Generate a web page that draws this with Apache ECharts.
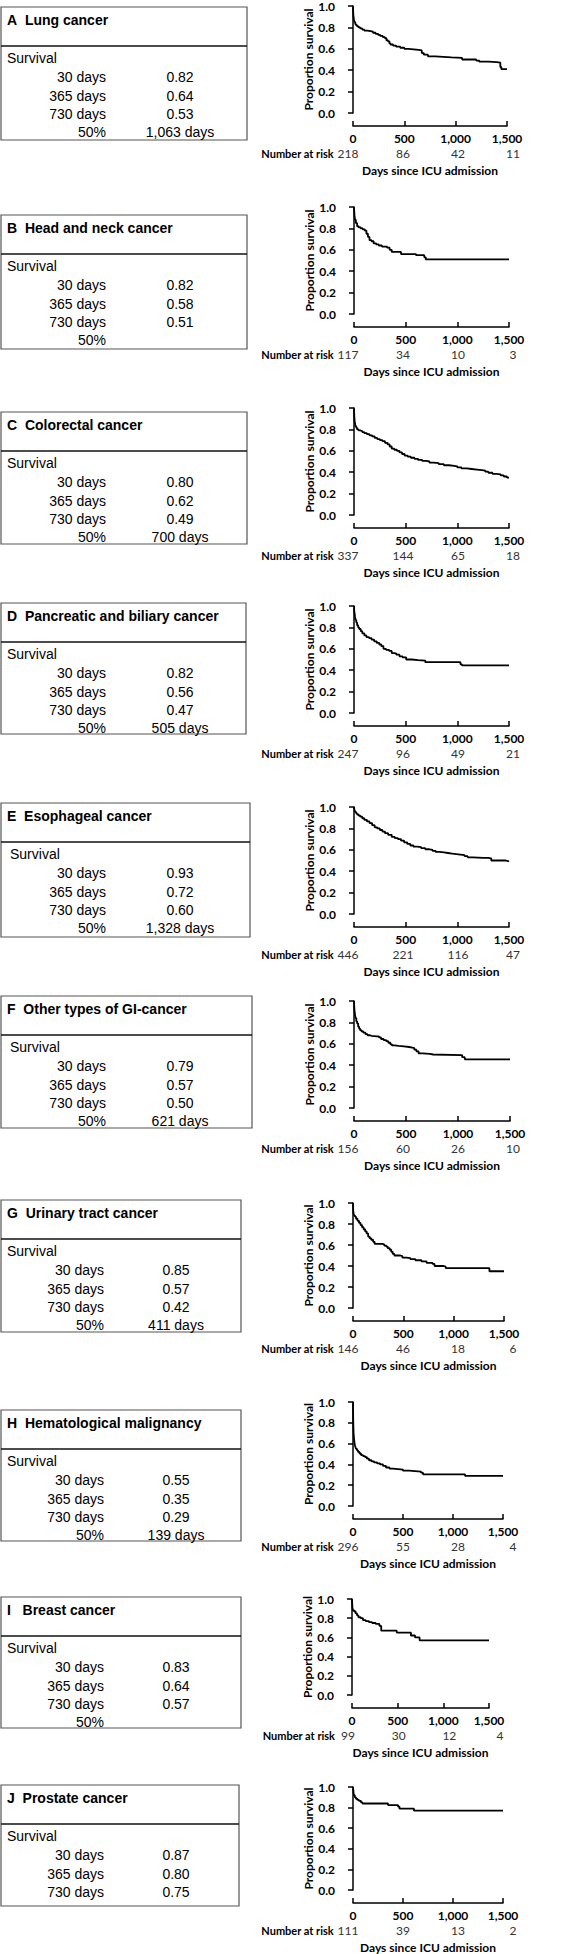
<!DOCTYPE html>
<html><head><meta charset="utf-8">
<script src="https://cdn.jsdelivr.net/npm/echarts/dist/echarts.min.js"></script>
<style>html,body{margin:0;padding:0;background:#fff}#c{width:563px;height:1954px}</style>
</head><body><div id="c"></div>
<script>
// ---------------- data ----------------
const panelLetters = ['A','B','C','D','E','F','G','H','I','J'];
const panelTitles = ['Lung cancer','Head and neck cancer','Colorectal cancer','Pancreatic and biliary cancer','Esophageal cancer','Other types of GI-cancer','Urinary tract cancer','Hematological malignancy','Breast cancer','Prostate cancer'];
const rowLabels = ['30 days','365 days','730 days','50%'];
const surv30  = ['0.82','0.82','0.80','0.82','0.93','0.79','0.85','0.55','0.83','0.87'];
const surv365 = ['0.64','0.58','0.62','0.56','0.72','0.57','0.57','0.35','0.64','0.80'];
const surv730 = ['0.53','0.51','0.49','0.47','0.60','0.50','0.42','0.29','0.57','0.75'];
const medianSurvival = ['1,063 days','','700 days','505 days','1,328 days','621 days','411 days','139 days','',null];
const xTickValues = [0,500,1000,1500];
const yTickValues = [0,0.2,0.4,0.6,0.8,1.0];
const atRisk = [
  [218,86,42,11],[117,34,10,3],[337,144,65,18],[247,96,49,21],[446,221,116,47],
  [156,60,26,10],[146,46,18,6],[296,55,28,4],[99,30,12,4],[111,39,13,2]
];
const curveA = [[0,1],[1,0.96],[3,0.92],[6,0.89],[10,0.87],[15,0.85],[22,0.83],[30,0.82],[40,0.81],[55,0.80],[70,0.79],[90,0.78],[110,0.77],[140,0.765],[170,0.76],[195,0.75],[220,0.74],[245,0.73],[265,0.72],[290,0.71],[310,0.70],[325,0.68],[340,0.67],[355,0.65],[365,0.64],[390,0.63],[420,0.62],[460,0.61],[500,0.60],[540,0.595],[590,0.59],[640,0.585],[670,0.56],[690,0.545],[730,0.53],[800,0.525],[880,0.52],[960,0.515],[1063,0.50],[1150,0.50],[1200,0.49],[1230,0.48],[1320,0.475],[1400,0.47],[1435,0.43],[1445,0.41],[1500,0.41]];
const curveB = [[0,1],[2,0.96],[5,0.92],[10,0.88],[18,0.85],[30,0.82],[45,0.81],[65,0.80],[85,0.79],[105,0.78],[120,0.75],[135,0.72],[150,0.69],[170,0.68],[190,0.66],[215,0.65],[240,0.64],[270,0.63],[320,0.62],[345,0.60],[365,0.58],[440,0.58],[455,0.56],[590,0.56],[600,0.55],[680,0.53],[695,0.51],[1500,0.51]];
const curveC = [[0,1],[1,0.96],[3,0.92],[6,0.88],[10,0.85],[15,0.83],[22,0.815],[30,0.80],[45,0.79],[60,0.785],[80,0.775],[100,0.765],[125,0.755],[150,0.745],[175,0.735],[200,0.72],[225,0.71],[250,0.70],[275,0.69],[300,0.675],[325,0.66],[345,0.64],[365,0.62],[390,0.61],[415,0.60],[440,0.585],[465,0.57],[490,0.555],[520,0.545],[550,0.535],[585,0.525],[620,0.515],[660,0.505],[700,0.50],[730,0.49],[770,0.485],[820,0.475],[870,0.465],[920,0.46],[970,0.455],[1000,0.445],[1040,0.435],[1090,0.43],[1140,0.425],[1190,0.42],[1240,0.415],[1270,0.405],[1300,0.395],[1340,0.385],[1380,0.38],[1420,0.37],[1450,0.36],[1480,0.35],[1500,0.35]];
const curveD = [[0,1],[2,0.96],[5,0.93],[10,0.90],[15,0.87],[22,0.845],[30,0.82],[40,0.80],[50,0.785],[65,0.765],[80,0.745],[100,0.725],[120,0.71],[145,0.70],[170,0.685],[195,0.67],[220,0.655],[245,0.64],[265,0.625],[285,0.60],[310,0.59],[340,0.58],[365,0.56],[390,0.555],[410,0.545],[440,0.53],[470,0.52],[505,0.50],[560,0.495],[620,0.49],[690,0.475],[1020,0.475],[1030,0.455],[1045,0.445],[1500,0.445]];
const curveE = [[0,1],[3,0.98],[8,0.96],[15,0.95],[22,0.94],[30,0.93],[45,0.92],[60,0.91],[80,0.895],[100,0.88],[125,0.865],[150,0.85],[175,0.83],[200,0.81],[225,0.80],[250,0.785],[275,0.77],[300,0.755],[330,0.74],[365,0.72],[395,0.71],[425,0.70],[455,0.685],[485,0.67],[515,0.655],[545,0.64],[575,0.63],[610,0.625],[650,0.615],[690,0.605],[730,0.60],[760,0.59],[790,0.58],[830,0.575],[870,0.57],[910,0.565],[950,0.56],[990,0.555],[1030,0.55],[1070,0.54],[1100,0.53],[1150,0.525],[1250,0.525],[1300,0.52],[1328,0.50],[1400,0.50],[1470,0.495],[1490,0.49],[1500,0.49]];
const curveF = [[0,1],[2,0.95],[5,0.91],[10,0.87],[15,0.84],[22,0.81],[30,0.79],[40,0.76],[50,0.74],[60,0.725],[75,0.715],[90,0.705],[110,0.69],[130,0.68],[150,0.675],[170,0.67],[220,0.67],[240,0.66],[260,0.645],[285,0.635],[310,0.625],[330,0.61],[350,0.595],[365,0.585],[390,0.58],[430,0.575],[480,0.57],[530,0.565],[560,0.56],[580,0.545],[600,0.53],[621,0.51],[660,0.505],[730,0.50],[760,0.495],[1030,0.495],[1040,0.475],[1065,0.455],[1500,0.455]];
const curveG = [[0,1],[1,0.95],[3,0.92],[6,0.90],[12,0.88],[20,0.87],[30,0.85],[45,0.83],[60,0.81],[75,0.79],[90,0.77],[105,0.75],[120,0.73],[135,0.71],[150,0.68],[165,0.665],[180,0.65],[200,0.63],[215,0.61],[290,0.605],[310,0.595],[330,0.585],[345,0.57],[365,0.555],[380,0.535],[395,0.515],[411,0.50],[470,0.495],[490,0.48],[530,0.475],[570,0.465],[620,0.455],[680,0.445],[730,0.43],[790,0.42],[810,0.40],[900,0.395],[920,0.38],[1345,0.38],[1355,0.35],[1500,0.35]];
const curveH = [[0,1],[1,0.90],[2,0.82],[4,0.75],[6,0.70],[9,0.66],[12,0.63],[16,0.60],[20,0.58],[25,0.565],[30,0.55],[40,0.535],[50,0.52],[65,0.505],[80,0.49],[100,0.48],[120,0.47],[139,0.455],[160,0.44],[185,0.43],[210,0.42],[240,0.41],[270,0.40],[300,0.385],[330,0.37],[365,0.36],[400,0.355],[450,0.35],[500,0.34],[560,0.335],[620,0.33],[680,0.32],[700,0.305],[1110,0.305],[1120,0.29],[1500,0.29]];
const curveI = [[0,1],[2,0.95],[5,0.91],[10,0.88],[25,0.87],[40,0.85],[55,0.83],[70,0.81],[95,0.80],[120,0.78],[150,0.77],[185,0.76],[220,0.75],[260,0.74],[300,0.72],[320,0.67],[480,0.67],[490,0.65],[630,0.65],[645,0.62],[690,0.60],[740,0.57],[1500,0.57]];
const curveJ = [[0,1],[3,0.97],[6,0.94],[10,0.92],[18,0.90],[30,0.885],[45,0.875],[60,0.865],[80,0.85],[95,0.84],[340,0.84],[350,0.825],[440,0.825],[450,0.81],[465,0.79],[600,0.79],[610,0.77],[1500,0.77]];
const curves = [curveA,curveB,curveC,curveD,curveE,curveF,curveG,curveH,curveI,curveJ];

// ---------------- layout (positions only) ----------------
const layout = [
  {T:5,   H:108, X0:353, W:154, bt:7,    bh:133, br:247, lx:106, vx:180, sx:7,  rw:165},
  {T:207, H:107, X0:354, W:155, bt:215,  bh:134, br:247, lx:106, vx:180, sx:7,  rw:165},
  {T:408, H:107, X0:354, W:155, bt:412,  bh:132, br:247, lx:106, vx:180, sx:7,  rw:165},
  {T:606, H:107, X0:354, W:155, bt:603,  bh:131, br:246, lx:106, vx:180, sx:7,  rw:165},
  {T:807, H:107, X0:354, W:155, bt:803,  bh:134, br:250, lx:106, vx:180, sx:10, rw:165},
  {T:1001,H:107, X0:354, W:156, bt:996,  bh:132, br:252, lx:106, vx:180, sx:10, rw:165},
  {T:1203,H:105, X0:353, W:151, bt:1200, bh:132, br:241, lx:104, vx:176, sx:7,  rw:165},
  {T:1402,H:104, X0:353, W:150, bt:1410, bh:131, br:241, lx:104, vx:176, sx:7,  rw:165},
  {T:1599,H:96,  X0:352, W:137, bt:1597, bh:131, br:241, lx:104, vx:176, sx:7,  rw:152},
  {T:1787,H:103, X0:353, W:150, bt:1785, bh:121, br:239, lx:104, vx:176, sx:7,  rw:165}
];

const CF = 'Lato';
const TF = 'Liberation Sans';
const grids = [], xAxes = [], yAxes = [], series = [], graphics = [];

function tText(x, y, text, align, bold) {
  return {type: 'text', x: x, y: y,
    style: {text: text, fontFamily: TF, fontSize: 14, fontWeight: bold ? 'bold' : 'normal', fill: '#000',
      textAlign: align, textVerticalAlign: 'middle', align: align, verticalAlign: 'middle'}};
}

panelTitles.forEach((title, i) => {
  const L = layout[i];
  const axisY = L.T + L.H + 13;
  const riskY = axisY + 27;
  grids.push({left: L.X0, top: L.T, width: L.W, height: L.H});
  xAxes.push({
    gridIndex: 2*i, type: 'value', min: xTickValues[0], max: xTickValues[xTickValues.length-1], interval: 500,
    offset: 13,
    axisLine: {show: true, onZero: false, lineStyle: {color: '#000', width: 1.5}},
    axisTick: {show: true, inside: true, length: 5, lineStyle: {color: '#000', width: 1.5}},
    splitLine: {show: false},
    axisLabel: {margin: 6, fontFamily: CF, fontWeight: 'bold', fontSize: 12, color: '#000',
      formatter: v => v.toLocaleString('en-US')},
    name: 'Days since ICU admission', nameLocation: 'middle', nameGap: 38,
    nameTextStyle: {fontFamily: CF, fontWeight: 'bold', fontSize: 12, color: '#000'}
  });
  yAxes.push({
    gridIndex: 2*i, type: 'value', min: yTickValues[0], max: yTickValues[yTickValues.length-1], interval: 0.2,
    offset: 10,
    axisLine: {show: true, lineStyle: {color: '#000', width: 1.5}},
    axisTick: {show: true, inside: false, length: 5, lineStyle: {color: '#000', width: 1.5}},
    splitLine: {show: false},
    axisLabel: {margin: 8, fontFamily: CF, fontWeight: 'bold', fontSize: 12, color: '#000',
      formatter: v => v.toFixed(1)},
    name: 'Proportion survival', nameLocation: 'middle', nameGap: 29,
    nameTextStyle: {fontFamily: CF, fontWeight: 'bold', fontSize: 12, color: '#000'}
  });
  grids.push({left: 348, top: riskY - 1, width: L.rw, height: 1});
  xAxes.push({
    gridIndex: 2*i+1, type: 'category', boundaryGap: false, data: atRisk[i].map(String), position: 'bottom',
    axisLine: {show: false}, axisTick: {show: false}, splitLine: {show: false},
    axisLabel: {interval: 0, margin: 0, verticalAlign: 'middle', fontFamily: CF, fontSize: 12, color: '#333'},
    name: 'Number at risk', nameLocation: 'start', nameGap: 13,
    nameTextStyle: {fontFamily: CF, fontWeight: 'bold', fontSize: 11, color: '#000', verticalAlign: 'middle'}
  });
  yAxes.push({gridIndex: 2*i+1, type: 'value', show: false});

  series.push({
    type: 'line', xAxisIndex: 2*i, yAxisIndex: 2*i, data: curves[i], step: 'end',
    showSymbol: false, symbol: 'none', lineStyle: {color: '#000', width: 1.8}, silent: true, animation: false
  });

  graphics.push({type: 'rect', shape: {x: 1, y: L.bt, width: L.br - 1, height: L.bh},
    style: {fill: 'rgba(0,0,0,0)', stroke: '#555', lineWidth: 1.2}});
  graphics.push({type: 'line', shape: {x1: 1, y1: L.bt + 39, x2: L.br, y2: L.bt + 39},
    style: {stroke: '#111', lineWidth: 1.6}});
  graphics.push(tText(7, L.bt + 13, panelLetters[i] + (panelLetters[i] === 'I' ? '\u00a0\u00a0 ' : '\u00a0 ') + title, 'left', true));
  graphics.push(tText(L.sx, L.bt + 51, 'Survival', 'left', false));
  const vals = [surv30[i], surv365[i], surv730[i], medianSurvival[i]];
  const rowY = [70, 89, 107, 125];
  rowLabels.forEach((lab, r) => {
    if (vals[r] === null) return;
    graphics.push(tText(L.lx, L.bt + rowY[r], lab, 'right', false));
    if (vals[r]) graphics.push(tText(L.vx, L.bt + rowY[r], vals[r], 'center', false));
  });
});

const chart = echarts.init(document.getElementById('c'), null, {renderer: 'svg', width: 563, height: 1954});
chart.setOption({
  animation: false,
  backgroundColor: '#fff',
  grid: grids, xAxis: xAxes, yAxis: yAxes, series: series, graphic: graphics
});
</script>
</body></html>
